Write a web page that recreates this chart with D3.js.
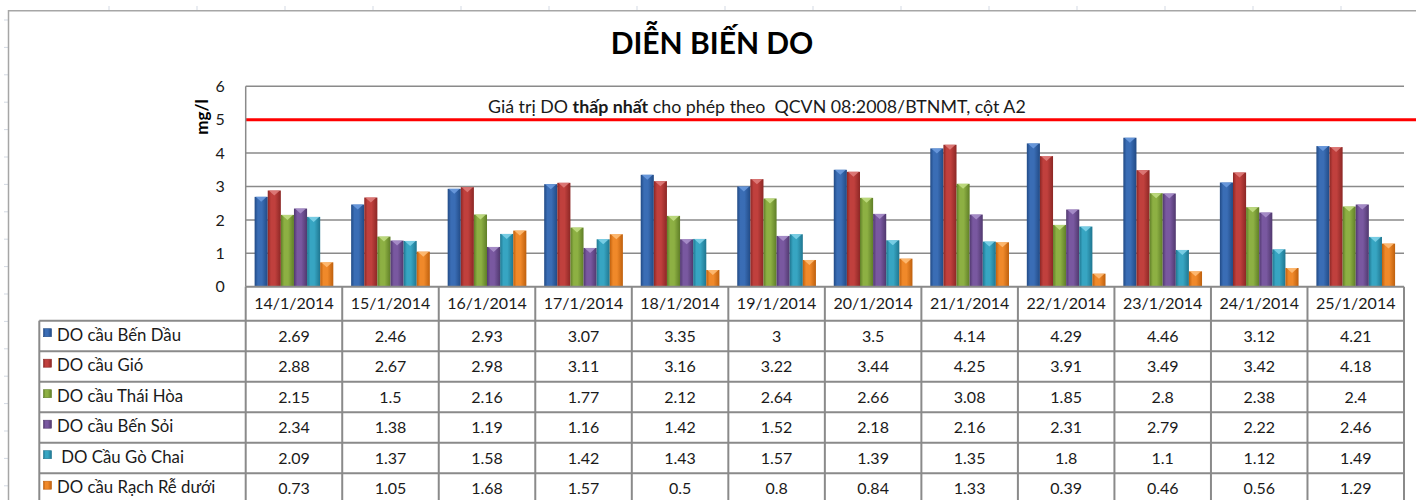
<!DOCTYPE html>
<html>
<head>
<meta charset="utf-8">
<script src="https://cdn.jsdelivr.net/npm/d3@7"></script>
<style>
  html, body { margin: 0; padding: 0; background: #fff; }
  svg { display: block; font-family: Lato, "Open Sans", sans-serif; }
</style>
</head>
<body>
<svg id="chart" width="1416" height="500"></svg>
<script>
// ---------- DATA ----------
const dates = ["14/1/2014","15/1/2014","16/1/2014","17/1/2014","18/1/2014","19/1/2014",
               "20/1/2014","21/1/2014","22/1/2014","23/1/2014","24/1/2014","25/1/2014"];
const seriesNames = ["DO cầu Bến Dầu","DO cầu Gió","DO cầu Thái Hòa","DO cầu Bến Sỏi"," DO Cầu Gò Chai","DO cầu Rạch Rễ dưới"];
const benDau   = [2.69, 2.46, 2.93, 3.07, 3.35, 3,    3.5,  4.14, 4.29, 4.46, 3.12, 4.21];
const gio      = [2.88, 2.67, 2.98, 3.11, 3.16, 3.22, 3.44, 4.25, 3.91, 3.49, 3.42, 4.18];
const thaiHoa  = [2.15, 1.5,  2.16, 1.77, 2.12, 2.64, 2.66, 3.08, 1.85, 2.8,  2.38, 2.4];
const benSoi   = [2.34, 1.38, 1.19, 1.16, 1.42, 1.52, 2.18, 2.16, 2.31, 2.79, 2.22, 2.46];
const goChai   = [2.09, 1.37, 1.58, 1.42, 1.43, 1.57, 1.39, 1.35, 1.8,  1.1,  1.12, 1.49];
const rachRe   = [0.73, 1.05, 1.68, 1.57, 0.5,  0.8,  0.84, 1.33, 0.39, 0.46, 0.56, 1.29];
const yTicks = [0, 1, 2, 3, 4, 5, 6];
const limitValue = 5;
const titleText = "DIỄN BIẾN DO";
const yAxisLabel = "mg/l";
const noteParts = [["Giá trị DO ", false], ["thấp nhất", true], [" cho phép theo  QCVN 08:2008/BTNMT, cột A2", false]];

const seriesValues = [benDau, gio, thaiHoa, benSoi, goChai, rachRe];
const colors = [
  {base:"#3a6db5", dark:"#214a85", light:"#6f9ee0"},
  {base:"#c0403d", dark:"#8c2725", light:"#e0807e"},
  {base:"#8db043", dark:"#5f7e27", light:"#c3df86"},
  {base:"#7958a0", dark:"#50386e", light:"#ab93cc"},
  {base:"#37a5c2", dark:"#1f7690", light:"#82d4ea"},
  {base:"#f0892a", dark:"#bf600d", light:"#ffc07a"}
];

// ---------- LAYOUT ----------
const svg = d3.select("#chart");
const W = 1416, H = 500;
const plot = {left: 245.7, right: 1404, top: 86.3, bottom: 286.7};
const tableLeft = 39.3, headerBottom = 320.7, rowH = 30.5;
const gridColor = "#8a8a8a";

const x0 = d3.scaleBand().domain(dates).range([plot.left, plot.right]).padding(0);
const x1 = d3.scaleBand().domain(d3.range(seriesNames.length)).range([0, x0.bandwidth()])
  .paddingInner(0).paddingOuter(0.68);
const y = d3.scaleLinear().domain([0, 6]).range([plot.bottom, plot.top]);

// defs gradients
const defs = svg.append("defs");
colors.forEach((c, i) => {
  const g = defs.append("linearGradient").attr("id", "g" + i)
    .attr("x1", "0").attr("x2", "1").attr("y1", "0").attr("y2", "0");
  g.append("stop").attr("offset", "0%").attr("stop-color", c.dark);
  g.append("stop").attr("offset", "25%").attr("stop-color", c.base);
  g.append("stop").attr("offset", "55%").attr("stop-color", c.base);
  g.append("stop").attr("offset", "100%").attr("stop-color", c.dark);
});

// faint spreadsheet marks & outer frame
svg.append("g").selectAll("line").data(d3.range(109, W, 88)).join("line")
  .attr("x1", d => d).attr("x2", d => d).attr("y1", 6).attr("y2", 10)
  .attr("stroke", "#d3d9e3").attr("stroke-width", 1);
svg.append("g").selectAll("line").data(d3.range(20, H, 27.4)).join("line")
  .attr("x1", 4).attr("x2", 8).attr("y1", d => d).attr("y2", d => d)
  .attr("stroke", "#d3d9e3").attr("stroke-width", 1);
svg.append("path").attr("d", `M8.5,${H + 5}V10.7H${W + 5}`)
  .attr("fill", "none").attr("stroke", "#a6a6a6").attr("stroke-width", 1.5);

// title
svg.append("text").attr("x", 712).attr("y", 54)
  .attr("text-anchor", "middle").attr("font-size", 30).attr("font-weight", 700)
  .attr("fill", "#000").text(titleText);

// gridlines
svg.append("g").selectAll("line").data(yTicks.filter(d => d > 0)).join("line")
  .attr("x1", plot.left).attr("x2", plot.right)
  .attr("y1", d => y(d)).attr("y2", d => y(d))
  .attr("stroke", gridColor).attr("stroke-width", 1.5);

// y axis using d3 axis (labels only)
const yAxis = svg.append("g").attr("transform", `translate(${plot.left},0)`)
  .call(d3.axisLeft(y).tickValues(yTicks).tickSize(0).tickPadding(21).tickFormat(d3.format("d")));
yAxis.select(".domain").remove();
yAxis.selectAll("text").attr("font-size", 16).attr("fill", "#1a1a1a")
  .attr("font-family", "Lato, sans-serif");

// y axis label
svg.append("text").attr("transform", `translate(208,117) rotate(-90)`)
  .attr("text-anchor", "middle").attr("font-size", 17).attr("font-weight", 700)
  .attr("fill", "#000").text(yAxisLabel);

// bars
const groups = svg.append("g").selectAll("g").data(dates).join("g")
  .attr("transform", d => `translate(${x0(d)},0)`);
groups.each(function(date, di) {
  const g = d3.select(this);
  seriesValues.forEach((vals, si) => {
    const v = vals[di];
    const bx = x1(si), bw = x1.bandwidth();
    g.append("rect").attr("x", bx).attr("y", y(v)).attr("width", bw)
      .attr("height", y(0) - y(v)).attr("fill", `url(#g${si})`);
    g.append("path")
      .attr("d", `M${bx + 1},${y(v)}H${bx + bw - 1}L${bx + bw / 2},${y(v) + 5}Z`)
      .attr("fill", colors[si].light).attr("opacity", 0.85);
  });
});

// limit line
svg.append("line").attr("x1", plot.left).attr("x2", W)
  .attr("y1", y(limitValue)).attr("y2", y(limitValue))
  .attr("stroke", "#ff0000").attr("stroke-width", 3);

// note text
const note = svg.append("text").attr("x", 488).attr("y", 113)
  .attr("font-size", 17.8).attr("fill", "#1a1a1a").attr("xml:space", "preserve");
noteParts.forEach(([t, b]) => note.append("tspan").attr("font-weight", b ? 700 : 400)
  .style("white-space", "pre").text(t));

// plot left border
svg.append("line").attr("x1", plot.left).attr("x2", plot.left)
  .attr("y1", plot.top).attr("y2", plot.bottom)
  .attr("stroke", gridColor).attr("stroke-width", 1.5);

// ---------- DATA TABLE ----------
const tb = svg.append("g");
const nRows = seriesNames.length;
const tableBottom = headerBottom + rowH * nRows;
tb.append("line").attr("x1", plot.left).attr("x2", plot.right)
  .attr("y1", plot.bottom).attr("y2", plot.bottom)
  .attr("stroke", gridColor).attr("stroke-width", 2);
tb.selectAll("line.h").data(d3.range(nRows + 1)).join("line").attr("class", "h")
  .attr("x1", tableLeft).attr("x2", plot.right)
  .attr("y1", i => headerBottom + i * rowH).attr("y2", i => headerBottom + i * rowH)
  .attr("stroke", gridColor).attr("stroke-width", 2);
tb.selectAll("line.v").data(dates.map(d => x0(d)).concat([plot.right])).join("line").attr("class", "v")
  .attr("x1", d => d).attr("x2", d => d)
  .attr("y1", plot.bottom).attr("y2", tableBottom + 10)
  .attr("stroke", gridColor).attr("stroke-width", 2);
tb.append("line").attr("x1", tableLeft).attr("x2", tableLeft)
  .attr("y1", headerBottom).attr("y2", tableBottom + 10)
  .attr("stroke", gridColor).attr("stroke-width", 2);

// category labels
tb.selectAll("text.cat").data(dates).join("text").attr("class", "cat")
  .attr("x", d => x0(d) + x0.bandwidth() / 2).attr("y", 309)
  .attr("text-anchor", "middle").attr("font-size", 16).attr("fill", "#1a1a1a")
  .text(d => d);

// legend + values
seriesNames.forEach((name, si) => {
  const rowTop = headerBottom + si * rowH;
  tb.append("rect").attr("x", 43.5).attr("y", rowTop + 8).attr("width", 8).attr("height", 8)
    .attr("fill", `url(#g${si})`).attr("stroke", colors[si].dark).attr("stroke-width", 0.6);
  tb.append("text").attr("x", 57).attr("y", rowTop + 20)
    .attr("font-size", 16.8).attr("fill", "#1a1a1a")
    .attr("xml:space", "preserve").style("white-space", "pre").text(name);
  tb.selectAll(null).data(seriesValues[si]).join("text")
    .attr("x", (v, di) => x0(dates[di]) + x0.bandwidth() / 2).attr("y", rowTop + 21)
    .attr("text-anchor", "middle").attr("font-size", 16).attr("fill", "#1a1a1a")
    .text(v => String(v));
});
</script>
</body>
</html>
